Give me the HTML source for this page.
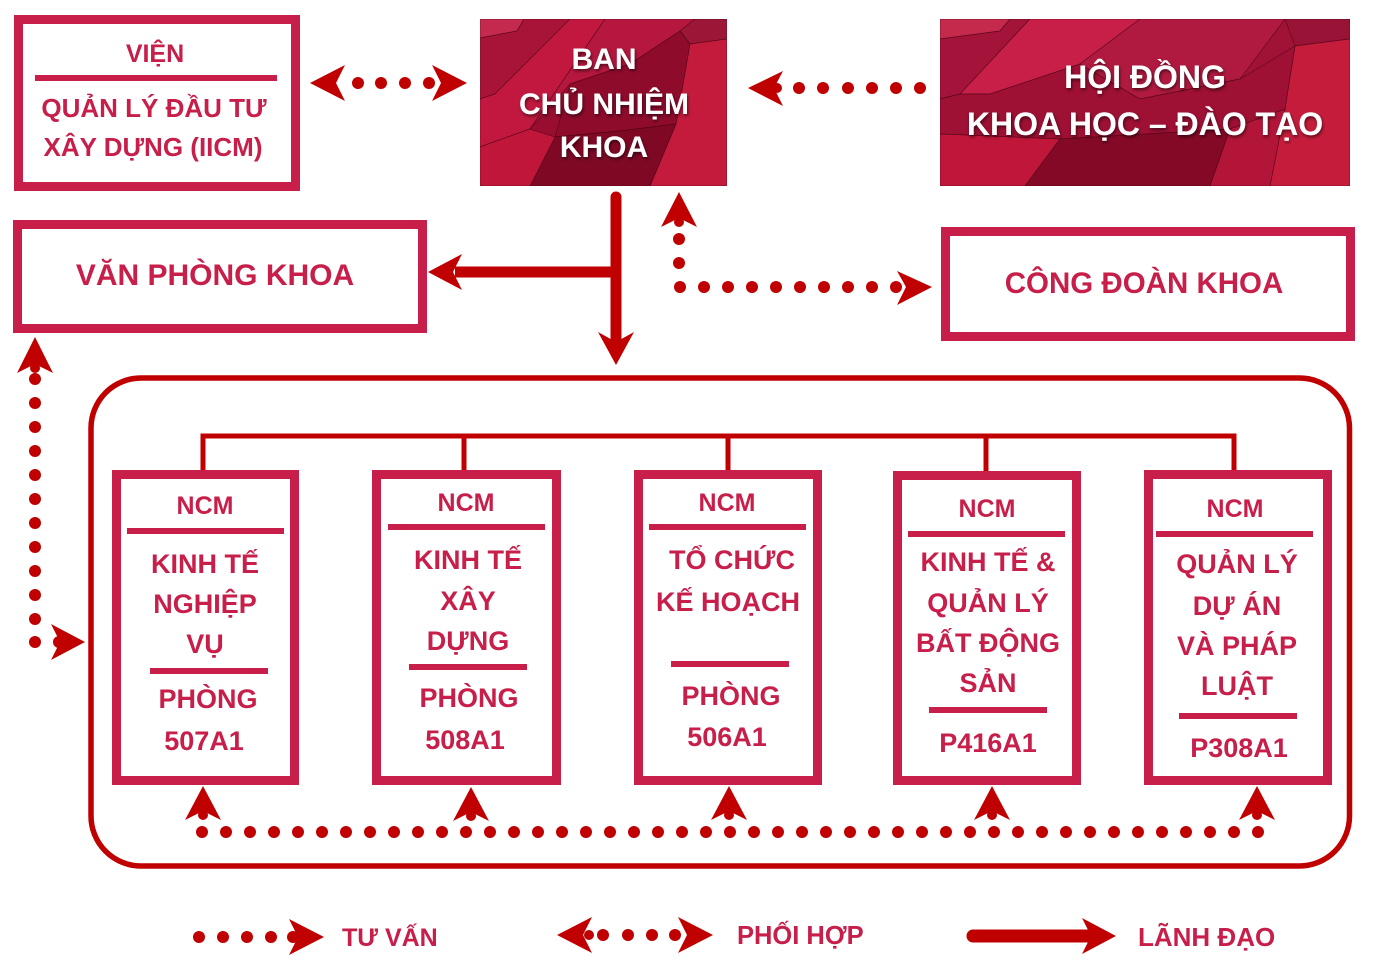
<!DOCTYPE html>
<html>
<head>
<meta charset="utf-8">
<style>
  html,body{margin:0;padding:0;background:#ffffff;}
  body{width:1375px;height:967px;overflow:hidden;}
  svg{display:block;}
  .t{font-family:"Liberation Sans",Arial,sans-serif;font-weight:bold;fill:#C71E4A;text-anchor:middle;}
  .w{font-family:"Liberation Sans",Arial,sans-serif;font-weight:bold;fill:#ffffff;text-anchor:middle;}
  .l{font-family:"Liberation Sans",Arial,sans-serif;font-weight:bold;fill:#C71E4A;text-anchor:start;}
</style>
</head>
<body>
<svg width="1375" height="967" viewBox="0 0 1375 967" xmlns="http://www.w3.org/2000/svg">
  <defs>
    <filter id="sh" x="-10%" y="-30%" width="120%" height="160%">
      <feDropShadow dx="1" dy="2" stdDeviation="1.6" flood-color="#000" flood-opacity="0.55"/>
    </filter>
    <clipPath id="cb"><rect x="0" y="0" width="247" height="167"/></clipPath>
    <clipPath id="ch"><rect x="0" y="0" width="410" height="167"/></clipPath>
  </defs>

  <!-- ===== BAN CHU NHIEM KHOA (textured) ===== -->
  <g transform="translate(480,19)" clip-path="url(#cb)">
    <rect x="0" y="0" width="247" height="167" fill="#990e30"/>
    <g stroke="#3e0410" stroke-width="0.7" stroke-opacity="0.6">
      <polygon points="0,0 44,0 37,12 0,19" fill="#c42a4e"/>
      <polygon points="44,0 90,0 15,75 0,80 0,19 37,12" fill="#a81438"/>
      <polygon points="90,0 125,0 50,110 8,125 0,128 0,80 15,75" fill="#c2183f"/>
      <polygon points="125,0 215,0 200,12 150,45 90,65 50,110" fill="#b5173e"/>
      <polygon points="215,0 247,0 247,20 210,25 200,12" fill="#9c1638"/>
      <polygon points="210,25 247,20 247,167 170,167 196,105" fill="#c41b3d"/>
      <polygon points="90,65 150,45 200,12 210,25 196,105 140,112 75,118" fill="#8f0b2c"/>
      <polygon points="75,118 140,112 196,105 170,167 50,167" fill="#7f0825"/>
      <polygon points="0,128 8,125 50,110 75,118 50,167 0,167" fill="#c0163a"/>
    </g>
  </g>
  <g filter="url(#sh)">
    <text class="w" x="604" y="69" font-size="30">BAN</text>
    <text class="w" x="604" y="114" font-size="30">CHỦ NHIỆM</text>
    <text class="w" x="604" y="157" font-size="30">KHOA</text>
  </g>

  <!-- ===== HOI DONG (textured) ===== -->
  <g transform="translate(940,19)" clip-path="url(#ch)">
    <rect x="0" y="0" width="410" height="167" fill="#a01236"/>
    <g stroke="#3e0410" stroke-width="0.7" stroke-opacity="0.6">
      <polygon points="0,0 70,0 60,12 0,20" fill="#c52a4d"/>
      <polygon points="0,20 60,12 70,0 90,0 20,75 0,80" fill="#a4133a"/>
      <polygon points="90,0 200,0 140,45 50,75 20,75" fill="#c81f48"/>
      <polygon points="200,0 345,0 300,60 200,80 140,45" fill="#b01a40"/>
      <polygon points="345,0 410,0 410,20 355,27" fill="#981336"/>
      <polygon points="355,27 410,20 410,167 330,167 345,90" fill="#c61c3c"/>
      <polygon points="0,80 20,75 50,75 140,45 200,80 300,60 355,27 345,90 290,110 120,120 0,115" fill="#9e1034"/>
      <polygon points="0,115 120,120 85,167 0,167" fill="#c0163a"/>
      <polygon points="120,120 290,110 270,167 85,167" fill="#840926"/>
      <polygon points="290,110 345,90 330,167 270,167" fill="#b31538"/>
    </g>
  </g>
  <g filter="url(#sh)">
    <text class="w" x="1145" y="88" font-size="32">HỘI ĐỒNG</text>
    <text class="w" x="1145" y="135" font-size="32">KHOA HỌC – ĐÀO TẠO</text>
  </g>

  <!-- ===== VIEN box ===== -->
  <rect x="18.5" y="19.5" width="277" height="167" fill="#fff" stroke="#C71E4A" stroke-width="9"/>
  <text class="t" x="155" y="62" font-size="25">VIỆN</text>
  <rect x="35" y="75" width="242" height="6" fill="#C71E4A"/>
  <text class="t" x="154" y="117" font-size="26">QUẢN LÝ ĐẦU TƯ</text>
  <text class="t" x="153" y="156" font-size="26">XÂY DỰNG (IICM)</text>

  <!-- ===== VAN PHONG KHOA ===== -->
  <rect x="17.5" y="224.5" width="405" height="104" fill="#fff" stroke="#C71E4A" stroke-width="9"/>
  <text class="t" x="215" y="285" font-size="30">VĂN PHÒNG KHOA</text>

  <!-- ===== CONG DOAN KHOA ===== -->
  <rect x="945.5" y="231.5" width="405" height="105" fill="#fff" stroke="#C71E4A" stroke-width="9"/>
  <text class="t" x="1144" y="293" font-size="29.5">CÔNG ĐOÀN KHOA</text>

  <!-- ===== Big rounded container ===== -->
  <rect x="91" y="378" width="1258.5" height="488" rx="50" ry="50" fill="none" stroke="#C00000" stroke-width="5.5"/>

  <!-- tree connectors -->
  <g stroke="#C00000" stroke-width="5" fill="none">
    <line x1="203" y1="436" x2="1234" y2="436"/>
    <line x1="203" y1="433.5" x2="203" y2="474"/>
    <line x1="464" y1="436" x2="464" y2="474"/>
    <line x1="728" y1="436" x2="728" y2="474"/>
    <line x1="986" y1="436" x2="986" y2="474"/>
    <line x1="1234" y1="433.5" x2="1234" y2="474"/>
  </g>

  <!-- ===== NCM boxes ===== -->
  <g fill="#fff" stroke="#C71E4A" stroke-width="9">
    <rect x="116.5" y="474.5" width="178" height="306"/>
    <rect x="376.5" y="474.5" width="180" height="306"/>
    <rect x="638.5" y="474.5" width="179" height="306"/>
    <rect x="897.5" y="475.5" width="179" height="305"/>
    <rect x="1148.5" y="474.5" width="179" height="306"/>
  </g>
  <g fill="#C71E4A">
    <rect x="127" y="528" width="157" height="6"/>
    <rect x="150" y="668" width="118" height="6"/>
    <rect x="388" y="524" width="157" height="6"/>
    <rect x="409" y="664" width="118" height="6"/>
    <rect x="649" y="524" width="157" height="6"/>
    <rect x="671" y="661" width="118" height="6"/>
    <rect x="908" y="531" width="157" height="6"/>
    <rect x="929" y="707" width="118" height="6"/>
    <rect x="1156" y="531" width="157" height="6"/>
    <rect x="1179" y="713" width="118" height="6"/>
  </g>

  <!-- box 1 -->
  <text class="t" x="205" y="514" font-size="25">NCM</text>
  <text class="t" x="205" y="573" font-size="27">KINH TẾ</text>
  <text class="t" x="205" y="613" font-size="27">NGHIỆP</text>
  <text class="t" x="205" y="653" font-size="27">VỤ</text>
  <text class="t" x="208" y="708" font-size="27">PHÒNG</text>
  <text class="t" x="204" y="750" font-size="27">507A1</text>
  <!-- box 2 -->
  <text class="t" x="466" y="511" font-size="25">NCM</text>
  <text class="t" x="468" y="569" font-size="27">KINH TẾ</text>
  <text class="t" x="468" y="610" font-size="27">XÂY</text>
  <text class="t" x="468" y="650" font-size="27">DỰNG</text>
  <text class="t" x="469" y="707" font-size="27">PHÒNG</text>
  <text class="t" x="465" y="749" font-size="27">508A1</text>
  <!-- box 3 -->
  <text class="t" x="727" y="511" font-size="25">NCM</text>
  <text class="t" x="732" y="569" font-size="27">TỔ CHỨC</text>
  <text class="t" x="728" y="611" font-size="27">KẾ HOẠCH</text>
  <text class="t" x="731" y="705" font-size="27">PHÒNG</text>
  <text class="t" x="727" y="746" font-size="27">506A1</text>
  <!-- box 4 -->
  <text class="t" x="987" y="517" font-size="25">NCM</text>
  <text class="t" x="988" y="571" font-size="27">KINH TẾ &amp;</text>
  <text class="t" x="988" y="612" font-size="27">QUẢN LÝ</text>
  <text class="t" x="988" y="652" font-size="27">BẤT ĐỘNG</text>
  <text class="t" x="988" y="692" font-size="27">SẢN</text>
  <text class="t" x="988" y="752" font-size="27">P416A1</text>
  <!-- box 5 -->
  <text class="t" x="1235" y="517" font-size="25">NCM</text>
  <text class="t" x="1237" y="573" font-size="27">QUẢN LÝ</text>
  <text class="t" x="1237" y="615" font-size="27">DỰ ÁN</text>
  <text class="t" x="1237" y="655" font-size="27">VÀ PHÁP</text>
  <text class="t" x="1237" y="695" font-size="27">LUẬT</text>
  <text class="t" x="1239" y="757" font-size="27">P308A1</text>

  <!-- ===== Arrows (dark red) ===== -->
  <g fill="#C00000">
    <!-- VIEN <-> BAN -->
    <polygon points="310,83 345,65 336,83 345,101"/>
    <polygon points="467,83 432,65 441,83 432,101"/>
    <circle cx="358" cy="83" r="6"/>
    <circle cx="381" cy="83" r="6"/>
    <circle cx="405" cy="83" r="6"/>
    <circle cx="429" cy="83" r="6"/>

    <!-- HOI DONG -> BAN -->
    <polygon points="748,88 783,71 774,88 783,106"/>
    <circle cx="777" cy="88" r="5"/>
    <circle cx="799" cy="88" r="6"/>
    <circle cx="823" cy="88" r="6"/>
    <circle cx="848" cy="88" r="6"/>
    <circle cx="872" cy="88" r="6"/>
    <circle cx="896" cy="88" r="6"/>
    <circle cx="920" cy="88" r="6"/>

    <!-- BAN lead arrows -->
    <line x1="616" y1="197" x2="616" y2="340" stroke="#C00000" stroke-width="11" stroke-linecap="round"/>
    <line x1="616" y1="272" x2="455" y2="272" stroke="#C00000" stroke-width="11"/>
    <polygon points="616,365 598,332 616,342 634,332"/>
    <polygon points="428,272 462,254 453,272 462,290"/>

    <!-- up to BAN + to CONG DOAN -->
    <polygon points="679,192 661,227 679,218 697,227"/>
    <circle cx="679" cy="222" r="5"/>
    <circle cx="679" cy="239" r="6"/>
    <circle cx="679" cy="263" r="6"/>
    <circle cx="680" cy="287" r="6"/>
    <circle cx="704" cy="287" r="6"/>
    <circle cx="728" cy="287" r="6"/>
    <circle cx="752" cy="287" r="6"/>
    <circle cx="776" cy="287" r="6"/>
    <circle cx="800" cy="287" r="6"/>
    <circle cx="824" cy="287" r="6"/>
    <circle cx="848" cy="287" r="6"/>
    <circle cx="872" cy="287" r="6"/>
    <circle cx="896" cy="287" r="6"/>
    <polygon points="932,287 897,271 906,287 897,305"/>

    <!-- left vertical to VAN PHONG + into container -->
    <polygon points="35,337 17,373 35,364 53,373"/>
    <circle cx="35" cy="368" r="5"/>
    <circle cx="35" cy="379" r="6"/>
    <circle cx="35" cy="403" r="6"/>
    <circle cx="35" cy="427" r="6"/>
    <circle cx="35" cy="451" r="6"/>
    <circle cx="35" cy="475" r="6"/>
    <circle cx="35" cy="499" r="6"/>
    <circle cx="35" cy="523" r="6"/>
    <circle cx="35" cy="547" r="6"/>
    <circle cx="35" cy="571" r="6"/>
    <circle cx="35" cy="595" r="6"/>
    <circle cx="35" cy="619" r="6"/>
    <circle cx="35" cy="642" r="6"/>
    <circle cx="59" cy="642" r="6"/>
    <polygon points="85,642 51,624 60,642 51,660"/>

    <!-- bottom dotted line -->
    <g>
      <circle cx="202" cy="832" r="6"/><circle cx="226" cy="832" r="6"/><circle cx="250" cy="832" r="6"/><circle cx="274" cy="832" r="6"/><circle cx="298" cy="832" r="6"/>
      <circle cx="322" cy="832" r="6"/><circle cx="346" cy="832" r="6"/><circle cx="370" cy="832" r="6"/><circle cx="394" cy="832" r="6"/><circle cx="418" cy="832" r="6"/>
      <circle cx="442" cy="832" r="6"/><circle cx="466" cy="832" r="6"/><circle cx="490" cy="832" r="6"/><circle cx="514" cy="832" r="6"/><circle cx="538" cy="832" r="6"/>
      <circle cx="562" cy="832" r="6"/><circle cx="586" cy="832" r="6"/><circle cx="610" cy="832" r="6"/><circle cx="634" cy="832" r="6"/><circle cx="658" cy="832" r="6"/>
      <circle cx="682" cy="832" r="6"/><circle cx="706" cy="832" r="6"/><circle cx="730" cy="832" r="6"/><circle cx="754" cy="832" r="6"/><circle cx="778" cy="832" r="6"/>
      <circle cx="802" cy="832" r="6"/><circle cx="826" cy="832" r="6"/><circle cx="850" cy="832" r="6"/><circle cx="874" cy="832" r="6"/><circle cx="898" cy="832" r="6"/>
      <circle cx="922" cy="832" r="6"/><circle cx="946" cy="832" r="6"/><circle cx="970" cy="832" r="6"/><circle cx="994" cy="832" r="6"/><circle cx="1018" cy="832" r="6"/>
      <circle cx="1042" cy="832" r="6"/><circle cx="1066" cy="832" r="6"/><circle cx="1090" cy="832" r="6"/><circle cx="1114" cy="832" r="6"/><circle cx="1138" cy="832" r="6"/>
      <circle cx="1162" cy="832" r="6"/><circle cx="1186" cy="832" r="6"/><circle cx="1210" cy="832" r="6"/><circle cx="1234" cy="832" r="6"/><circle cx="1258" cy="832" r="6"/>
    </g>
    <!-- up arrows to NCM boxes -->
    <polygon points="203,786 185,820 203,811 221,820"/><circle cx="203" cy="815" r="5"/>
    <polygon points="471,787 453,821 471,812 489,821"/><circle cx="471" cy="816" r="5"/>
    <polygon points="729,786 711,820 729,811 747,820"/><circle cx="729" cy="815" r="5"/>
    <polygon points="992,786 974,820 992,811 1010,820"/><circle cx="992" cy="815" r="5"/>
    <polygon points="1257,786 1239,820 1257,811 1275,820"/><circle cx="1257" cy="815" r="5"/>

    <!-- ===== Legend ===== -->
    <circle cx="199" cy="937" r="6"/>
    <circle cx="223" cy="937" r="6"/>
    <circle cx="247" cy="937" r="6"/>
    <circle cx="271" cy="937" r="6"/>
    <circle cx="293" cy="937" r="6"/>
    <polygon points="324,937 289,919 298,937 289,955"/>

    <polygon points="557,935 592,917 583,935 592,953"/>
    <circle cx="589" cy="935" r="5"/>
    <circle cx="603" cy="935" r="6"/>
    <circle cx="628" cy="935" r="6"/>
    <circle cx="652" cy="935" r="6"/>
    <circle cx="675" cy="935" r="6"/>
    <polygon points="713,935 678,917 687,935 678,953"/>

    <line x1="973" y1="936" x2="1090" y2="936" stroke="#C00000" stroke-width="13" stroke-linecap="round"/>
    <polygon points="1116,936 1082,918 1091,936 1082,954"/>
  </g>

  <text class="l" x="342" y="946" font-size="25">TƯ VẤN</text>
  <text class="l" x="737" y="944" font-size="25.5">PHỐI HỢP</text>
  <text class="l" x="1138" y="946" font-size="26">LÃNH ĐẠO</text>
</svg>
</body>
</html>
